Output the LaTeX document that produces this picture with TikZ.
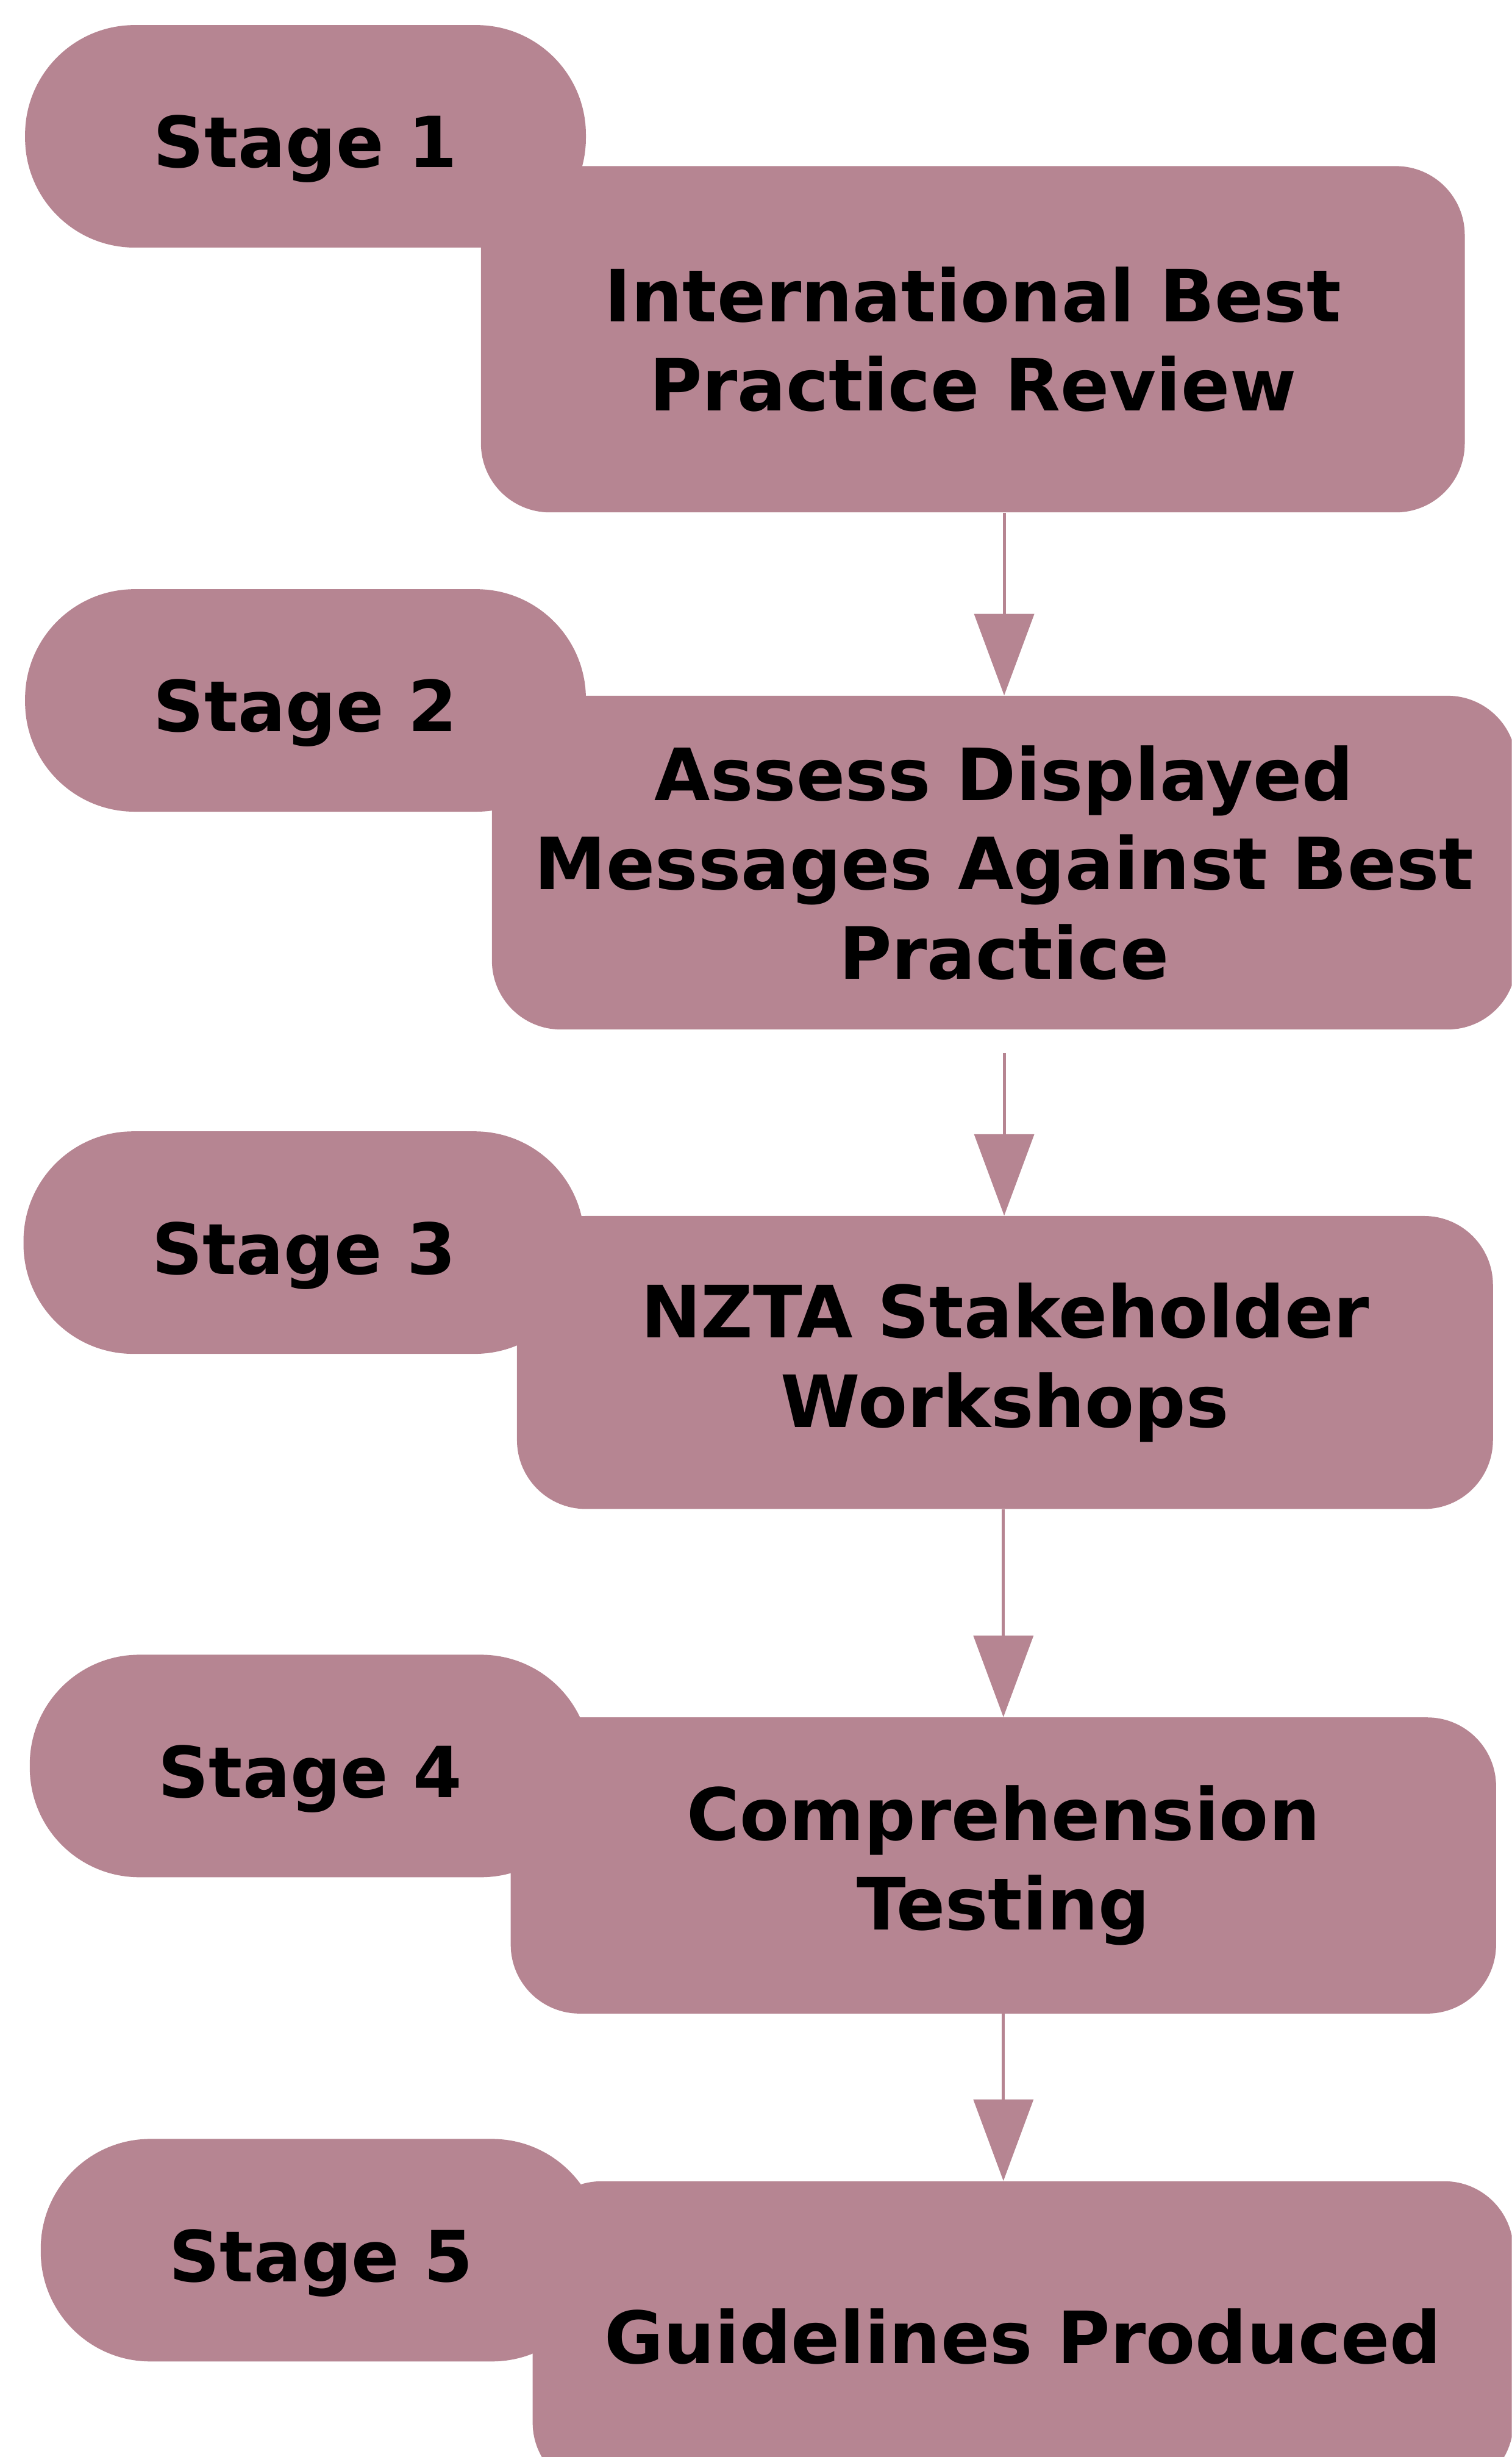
\documentclass[tikz,border=0pt]{standalone}
\usepackage{fontspec}
\setmainfont{DejaVu Sans}
\usetikzlibrary{arrows.meta}
\definecolor{mauve}{RGB}{182,133,146}

\begin{document}
\begin{tikzpicture}[x=1pt,y=-1pt,>={Triangle[width=38pt,length=52pt]},
        stagepill/.style={fill=mauve,rounded corners=70pt,minimum width=358pt,minimum height=142pt,
            inner sep=0pt,text height=40pt,text depth=0pt,font=\bfseries\fontsize{45}{56}\selectfont},
        stepbox/.style={fill=mauve,rounded corners=44pt,inner sep=0pt,align=center,
            font=\bfseries\fontsize{46}{57}\selectfont},
        link/.style={->,draw=mauve,line width=2pt}]
    \useasboundingbox (0,0) rectangle (965,1568);
    \clip (0,0) rectangle (965,1568);
    \foreach \Num/\X/\Y in {1/195/87,2/195/447,3/194/793,4/198/1127,5/205/1436}
    \node[stagepill] (stage\Num) at (\X,\Y) {Stage \Num};
    \node[stepbox,minimum width=628pt,minimum height=221pt] (review) at (621,216.5)
        {International Best\\Practice Review};
    \node[stepbox,minimum width=654pt,minimum height=213pt] (assess) at (641,550.5)
        {Assess Displayed\\Messages Against Best\\Practice};
    \node[stepbox,minimum width=623pt,minimum height=187pt] (workshop) at (641.5,869.5)
        {NZTA Stakeholder\\Workshops};
    \node[stepbox,minimum width=629pt,minimum height=189pt] (testing) at (640.5,1190.5)
        {Comprehension\\Testing};
    \node[stepbox,minimum width=626pt,minimum height=198pt] (guide) at (653,1491)
        {Guidelines Produced};
    \draw[link] (review.south -| assess.north) -- (assess.north);
    \draw[link] ([yshift=-15pt]assess.south) -- (assess.south |- workshop.north);
    \draw[link] (workshop.south -| testing.north) -- (testing.north);
    \draw[link] (testing.south) -- (testing.south |- guide.north);
\end{tikzpicture}
\end{document}
